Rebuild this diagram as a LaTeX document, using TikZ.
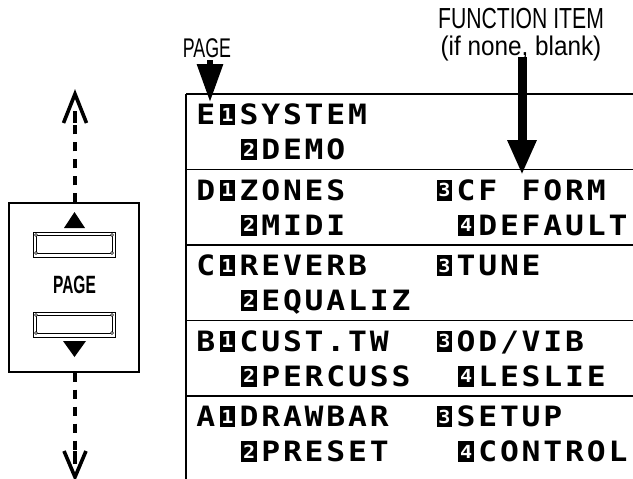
\documentclass[tikz,border=0pt]{standalone}
\usepackage{fontspec}
\usetikzlibrary{arrows.meta}
\newfontfamily\lcdfont[FakeStretch=1.12]{DejaVu Sans Mono}
\newfontfamily\lblfont[FakeStretch=0.73]{Liberation Sans}
\newfontfamily\lblwfont[FakeStretch=0.9]{Liberation Sans}
\newfontfamily\pglblfont[FakeStretch=0.66]{Liberation Sans}
\newfontfamily\btnfont[FakeStretch=0.62]{Liberation Sans}
\newlength\lcdw \setlength\lcdw{21.7pt}
\makeatletter
\def\lcd#1{\lcd@#1\relax}
\def\lcd@#1{\ifx\relax#1\else\makebox[\lcdw]{#1}\expandafter\lcd@\fi}
\makeatother
\newcommand\inv[1]{\makebox[15.5pt][l]{\rule[-0.5pt]{15.5pt}{21pt}}\hspace{-15.5pt}\makebox[15.5pt]{\raisebox{3.5pt}{\color{white}\fontsize{18}{18}\selectfont #1}}}
\begin{document}
\begin{tikzpicture}[x=1pt,y=-1pt,
  lcdtext/.style={anchor=base west, inner sep=0pt, font=\lcdfont\bfseries\fontsize{28}{30}\selectfont},
  lbltext/.style={anchor=base, inner sep=0pt, font=\lblfont\fontsize{29}{29}\selectfont},
  lblwtext/.style={anchor=base, inner sep=0pt, font=\lblwfont\fontsize{27}{27}\selectfont},
  pglbl/.style={anchor=base, inner sep=0pt, font=\pglblfont\fontsize{27}{27}\selectfont},
  btnlbl/.style={inner sep=0pt, font=\btnfont\bfseries\fontsize{25}{25}\selectfont},
  gridline/.style={line width=1.5pt},
  panel/.style={draw, line width=1.3pt, minimum width=130pt, minimum height=169pt, inner sep=0pt},
  btn/.style={draw, line width=0.9pt, minimum width=82pt, minimum height=25pt, inner sep=0pt},
  dashline/.style={line width=4.5pt, dash pattern=on 9pt off 8pt},
  barbline/.style={line width=3.6pt, line join=miter},
  bigarrow/.style={line width=9pt, -{Triangle[width=27pt,length=35pt]}},
  pagearrow/.style={line width=6pt, -{Triangle[width=25pt,length=38pt]}}
]
\useasboundingbox (0,0) rectangle (633,479);

% ---- left panel ----
\node[panel] (lbox) at (74,287.5) {};
\coordinate (uptip) at (75,94);
\coordinate (downtip) at (75,477);
\draw[dashline] (lbox.north -| uptip) -- ([yshift=-22pt]uptip);
\draw[barbline] (63.5,123) -- (uptip) -- (86.5,123);
\draw[line width=4pt] (75,111) -- (75,123);
\draw[dashline] (lbox.south -| downtip) -- ([yshift=22pt]downtip);
\draw[barbline] (64,451) -- (downtip) -- (86,451);
\draw[line width=4pt] (75,451) -- (75,464);

\fill (64,228) -- (74.5,212) -- (85,228) -- cycle;
\node[btn] (upbtn) at (74,244.5) {};
\node[btn] (downbtn) at (74,324.5) {};
\foreach \b in {upbtn,downbtn}{
  \begin{scope}[shift={(\b.center)}]
    \draw[line width=0.7pt] (-38,-9.5) rectangle (38,8.5);
    \foreach \px/\py in {-38/-9.5,38/-9.5,-38/8.5,38/8.5}
      \draw[line width=0.5pt, fill=white] (\px,\py) circle (1.5pt);
  \end{scope}
}
\node[btnlbl] (pagebtn) at (74.5,284.5) {PAGE};
\fill (63,341) -- (86,341) -- (74.5,357) -- cycle;

% ---- LCD table ----
\draw[gridline] (186,94) -- (186,479);
\foreach \y in {94,169.5,245,320.5,396}
  \draw[gridline] (186,\y) -- (633,\y);

% row E
\node[lcdtext] (e1) at (194.65,124.5) {\lcd{E{\inv1}SYSTEM}};
\node[lcdtext] (e2) at (238.05,159.5) {\lcd{{\inv2}DEMO}};
% row D
\node[lcdtext] (d1) at (194.65,200) {\lcd{D{\inv1}ZONES}};
\node[lcdtext] (d2) at (238.05,235) {\lcd{{\inv2}MIDI}};
\node[lcdtext] (d3) at (433.35,200) {\lcd{{\inv3}CF~FORM}};
\node[lcdtext] (d4) at (455.05,235) {\lcd{{\inv4}DEFAULT}};
% row C
\node[lcdtext] (c1) at (194.65,275.5) {\lcd{C{\inv1}REVERB}};
\node[lcdtext] (c2) at (238.05,310.5) {\lcd{{\inv2}EQUALIZ}};
\node[lcdtext] (c3) at (433.35,275.5) {\lcd{{\inv3}TUNE}};
% row B
\node[lcdtext] (b1) at (194.65,351) {\lcd{B{\inv1}CUST.TW}};
\node[lcdtext] (b2) at (238.05,386) {\lcd{{\inv2}PERCUSS}};
\node[lcdtext] (b3) at (433.35,351) {\lcd{{\inv3}OD/VIB}};
\node[lcdtext] (b4) at (455.05,386) {\lcd{{\inv4}LESLIE}};
% row A
\node[lcdtext] (a1) at (194.65,426.5) {\lcd{A{\inv1}DRAWBAR}};
\node[lcdtext] (a2) at (238.05,461.5) {\lcd{{\inv2}PRESET}};
\node[lcdtext] (a3) at (433.35,426.5) {\lcd{{\inv3}SETUP}};
\node[lcdtext] (a4) at (455.05,461.5) {\lcd{{\inv4}CONTROL}};

% ---- labels and arrows ----
\node[pglbl] (pagelbl) at (207,57) {PAGE};
\node[lbltext] (fnlbl1) at (521,28) {FUNCTION ITEM};
\node[lblwtext] (fnlbl2) at (521,55) {(if none, blank)};
\coordinate (pagetip) at (210,102);
\coordinate (fntip) at (522,175);
\draw[pagearrow] ([yshift=-3pt]pagelbl.south -| pagetip) -- (pagetip);
\draw[bigarrow] ([yshift=4pt]fnlbl2.south -| fntip) -- (fntip);
\end{tikzpicture}
\end{document}
